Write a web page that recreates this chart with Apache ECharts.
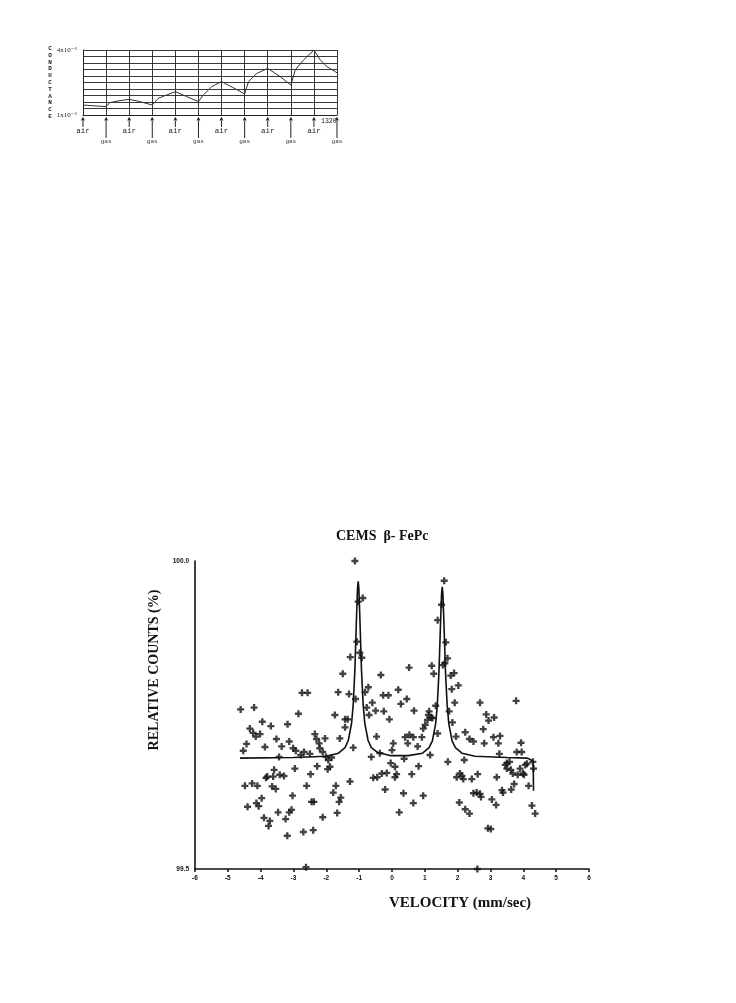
<!DOCTYPE html>
<html><head><meta charset="utf-8">
<script src="https://cdn.jsdelivr.net/npm/echarts@6/dist/echarts.min.js"></script>
<style>html,body{margin:0;padding:0;background:#fff}#c{width:736px;height:1003px}</style>
</head><body><div id="c"></div>
<script>
// ---------- Top chart: conductance vs time ----------
const condTime = [0,120,139,182,240,295,360,391,434,480,538,600,625,669,720,781,840,860,903,960,1025,1080,1103,1146,1200,1233,1268,1320];
const condValue = [1.46,1.385,1.57,1.65,1.72,1.62,1.46,1.77,1.92,2.08,1.85,1.62,1.92,2.31,2.54,2.26,1.97,2.54,2.92,3.15,2.77,2.38,3.08,3.54,4.0,3.54,3.23,2.95];
const exposureLabels = ['air','gas','air','gas','air','gas','air','gas','air','gas','air','gas'];
const condYLabels = {1:'1x10\u207B\u2076', 4:'4x10\u207B\u2076'};
const condEndLabel = '1320';

// ---------- Bottom chart: CEMS spectrum ----------
const velocity = [-1.13,-1.03,-0.89,1.59,1.51,1.39,-1.07,-0.98,-0.92,-1.27,-1.50,-0.34,0.52,1.21,1.27,1.55,-1.64,-1.31,-1.11,-0.82,-0.72,-0.60,-0.77,-0.50,-0.27,-0.11,0.19,0.27,0.45,0.67,1.13,1.33,-0.25,1.64,1.69,1.61,1.89,1.79,2.02,1.82,1.91,2.68,3.78,1.74,2.87,
-4.61,-4.20,-2.85,-2.74,-2.57,-3.95,-3.69,-3.18,-4.33,-4.23,-4.15,-4.02,-4.43,-4.53,-3.87,-3.52,-3.36,-3.13,-3.01,-2.93,-3.44,-2.78,-2.68,-2.50,-2.35,-2.30,-2.22,-2.20,-2.11,-2.04,-2.01,-1.94,-1.84,-1.74,-1.59,-1.43,-1.35,-1.18,-1.43,
-0.47,-0.08,0.04,-0.37,0.40,0.53,0.48,0.65,0.78,0.91,0.95,1.01,1.08,1.11,1.19,1.23,1.16,1.39,1.84,1.95,1.70,
2.23,2.36,2.48,2.20,2.94,3.11,2.78,2.81,3.09,3.24,3.29,3.27,3.80,3.95,3.50,3.58,3.45,
-4.48,-4.26,-4.10,-4.40,-4.13,-4.06,-3.97,-3.84,-3.80,-3.59,-3.62,-3.65,-3.54,-3.42,-3.29,-3.90,-3.72,-3.76,-3.47,-3.24,-3.13,-3.06,-3.03,-2.96,-3.19,-2.70,-2.60,-2.48,-2.45,-2.38,-2.40,-2.28,-2.11,-1.96,-1.89,-1.79,-1.71,-1.61,-1.56,-1.67,-1.28,-2.62,
-0.57,-0.45,-0.31,-0.16,-0.21,-0.04,0.09,0.09,0.14,0.35,0.22,0.60,0.65,0.81,0.95,
1.97,2.07,2.13,2.17,2.05,2.23,2.36,2.43,2.61,2.48,2.58,2.68,2.71,3.04,3.17,3.19,2.92,3.01,3.35,3.38,3.50,3.62,3.72,3.63,3.68,3.83,3.90,3.99,4.06,4.11,4.02,4.16,4.26,4.36,4.29,4.31,2.60,
-0.70,0.00,-0.63,0.37,3.93];
const counts = [100.000,99.934,99.940,99.968,99.929,99.904,99.869,99.851,99.843,99.844,99.817,99.815,99.827,99.830,99.817,99.831,99.787,99.784,99.776,99.787,99.795,99.770,99.762,99.757,99.782,99.782,99.791,99.768,99.776,99.757,99.756,99.765,99.756,99.868,99.842,99.834,99.818,99.814,99.798,99.792,99.770,99.770,99.773,99.756,99.751,
99.759,99.762,99.752,99.786,99.786,99.739,99.732,99.735,99.728,99.721,99.715,99.719,99.703,99.692,99.698,99.711,99.699,99.707,99.696,99.692,99.682,99.685,99.690,99.687,99.719,99.711,99.704,99.696,99.690,99.712,99.682,99.677,99.681,99.750,99.712,99.743,99.743,99.697,99.730,
99.715,99.743,99.704,99.688,99.714,99.718,99.704,99.714,99.699,99.714,99.728,99.734,99.742,99.750,99.746,99.745,99.685,99.720,99.738,99.715,99.674,
99.722,99.711,99.707,99.677,99.741,99.746,99.727,99.704,99.714,99.704,99.716,99.687,99.690,99.690,99.672,99.674,99.669,
99.635,99.639,99.635,99.601,99.607,99.602,99.615,99.648,99.650,99.661,99.650,99.634,99.630,99.653,99.651,99.583,99.578,99.570,99.592,99.581,99.592,99.596,99.619,99.663,99.554,99.560,99.635,99.654,99.609,99.609,99.563,99.667,99.584,99.662,99.666,99.624,99.635,99.609,99.616,99.591,99.642,99.503,
99.648,99.649,99.655,99.656,99.629,99.672,99.666,99.649,99.654,99.623,99.592,99.654,99.607,99.667,99.619,
99.649,99.655,99.651,99.646,99.608,99.597,99.590,99.646,99.654,99.623,99.624,99.622,99.617,99.613,99.604,99.649,99.566,99.565,99.628,99.624,99.663,99.661,99.638,99.629,99.655,99.653,99.663,99.655,99.669,99.671,99.653,99.635,99.603,99.590,99.674,99.663,99.500,
99.750,99.693,99.682,99.679,99.705];
const fitVelocity = [-4.63,-3.0,-2.0,-1.63,-1.43,-1.33,-1.23,-1.18,-1.13,-1.08,-1.05,-1.03,-1.01,-0.98,-0.93,-0.88,-0.83,-0.73,-0.63,-0.43,-0.03,0.5,0.93,1.13,1.23,1.33,1.38,1.43,1.48,1.51,1.53,1.55,1.58,1.63,1.68,1.73,1.83,1.93,2.13,2.53,3.5,4.1,4.2,4.3,4.31,4.31];
const fitCounts = [99.680,99.681,99.683,99.688,99.697,99.709,99.737,99.768,99.824,99.910,99.956,99.967,99.956,99.910,99.824,99.768,99.737,99.709,99.697,99.689,99.684,99.684,99.688,99.697,99.708,99.736,99.766,99.819,99.902,99.947,99.958,99.947,99.902,99.819,99.766,99.736,99.708,99.697,99.688,99.683,99.681,99.680,99.678,99.675,99.675,99.627];

const scatterData = velocity.map((v,i)=>[v,counts[i]]);
const fitData = fitVelocity.map((v,i)=>[v,fitCounts[i]]);
const condData = condTime.map((t,i)=>[t,condValue[i]]);

const plusPath = 'path://M2,0H4V2H6V4H4V6H2V4H0V2H2Z';
const serif = '"Liberation Serif","DejaVu Serif",serif';
const sans = '"Liberation Sans",Arial,sans-serif';
const mono = '"Liberation Mono","DejaVu Sans Mono",monospace';

function isAir(v){ return exposureLabels[Math.round(v/120)] === 'air'; }

const chart = echarts.init(document.getElementById('c'), null, {renderer:'canvas'});
chart.setOption({
  backgroundColor:'#fff',
  animation:false,
  title:[
    {text:'CEMS  \u03B2- FePc', left:336, top:529, padding:0,
      textStyle:{fontFamily:serif, fontWeight:'bold', fontSize:14, color:'#111'}},
    {text:condEndLabel, left:321, top:118, padding:0,
      textStyle:{fontFamily:mono, fontWeight:'normal', fontSize:6.5, color:'#222'}}
  ],
  grid:[
    {left:83, top:50, width:254, height:65},
    {left:195, top:561, width:394, height:308}
  ],
  xAxis:[
    {gridIndex:0, type:'value', min:0, max:1320, interval:120,
      axisLine:{show:true, onZero:false, lineStyle:{color:'#222', width:1}},
      axisTick:{show:false},
      splitLine:{show:true, lineStyle:{color:'#222', width:0.9}},
      axisLabel:{show:true, margin:1, showMinLabel:true, showMaxLabel:true, hideOverlap:false,
        formatter:function(v){
          if (isAir(v)) return '{ah|\u25B2}\n{sa| }\n{air|air}';
          return '{ah|\u25B2}\n{sg| }\n{gas|gas}';
        },
        rich:{
          ah:{fontFamily:'"DejaVu Sans",sans-serif', fontSize:5, lineHeight:5, color:'#222'},
          sa:{fontSize:1, width:1, height:6, lineHeight:6, backgroundColor:'#222'},
          sg:{fontSize:1, width:1, height:17, lineHeight:17, backgroundColor:'#222'},
          air:{fontFamily:mono, fontSize:7.5, lineHeight:9, color:'#222'},
          gas:{fontFamily:mono, fontSize:6, lineHeight:7, color:'#333'}
        }}},
    {gridIndex:1, type:'value', min:-6, max:6, interval:1,
      axisLine:{show:true, onZero:false, lineStyle:{color:'#111', width:1.6}},
      axisTick:{show:true, length:3, lineStyle:{color:'#111', width:1.5}},
      splitLine:{show:false},
      axisLabel:{margin:6, fontFamily:sans, fontWeight:'bold', fontSize:6.5, color:'#111',
        formatter:function(v){return String(v);}},
      name:'VELOCITY (mm/sec)', nameLocation:'middle', nameGap:27,
      nameTextStyle:{fontFamily:serif, fontWeight:'bold', fontSize:15, color:'#111', padding:[0,0,0,136]}}
  ],
  yAxis:[
    {gridIndex:0, type:'value', min:1, max:4, interval:0.3,
      axisLine:{show:true, onZero:false, lineStyle:{color:'#222', width:1}},
      axisTick:{show:false},
      splitLine:{show:true, lineStyle:{color:'#222', width:0.9}},
      axisLabel:{margin:6, fontFamily:serif, fontSize:7, color:'#222',
        formatter:function(v){
          if (Math.abs(v-1)<1e-6) return condYLabels[1];
          if (Math.abs(v-4)<1e-6) return condYLabels[4];
          return '';
        }},
      name:'CONDUCTANCE'.split('').join('\n'), nameLocation:'middle', nameGap:29, nameRotate:0,
      nameTextStyle:{fontFamily:mono, fontWeight:'bold', fontSize:6, lineHeight:6.8, color:'#222'}},
    {gridIndex:1, type:'value', min:99.5, max:100.0, interval:0.5,
      axisLine:{show:true, onZero:false, lineStyle:{color:'#111', width:1.6}},
      axisTick:{show:false},
      splitLine:{show:false},
      axisLabel:{margin:6, fontFamily:sans, fontWeight:'bold', fontSize:6.5, color:'#111',
        formatter:function(v){return v.toFixed(1);}},
      name:'RELATIVE COUNTS (%)', nameLocation:'middle', nameGap:30, nameRotate:90,
      nameTextStyle:{fontFamily:serif, fontWeight:'bold', fontSize:14, color:'#111', padding:[0,0,0,90]}}
  ],
  series:[
    {type:'line', xAxisIndex:0, yAxisIndex:0, data:condData, symbol:'none',
      lineStyle:{color:'#333', width:1}},
    {type:'line', xAxisIndex:1, yAxisIndex:1, data:fitData, symbol:'none',
      lineStyle:{color:'#111', width:1.6}, z:3},
    {type:'scatter', xAxisIndex:1, yAxisIndex:1, data:scatterData, symbol:plusPath,
      symbolSize:7, itemStyle:{color:'#111'}, z:4}
  ]
});
</script></body></html>
